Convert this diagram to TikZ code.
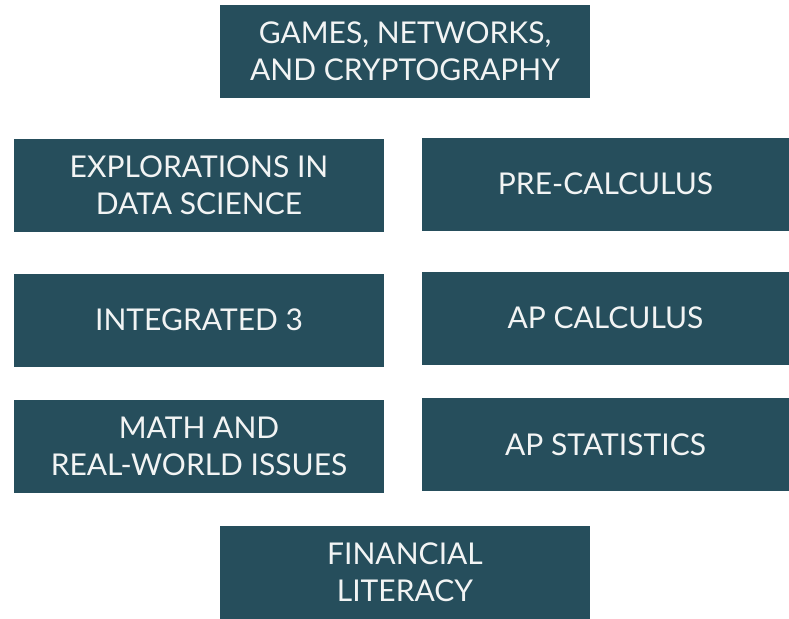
\documentclass[tikz,border=0pt]{standalone}
\usepackage{fontspec}
\setmainfont{Lato}
\definecolor{boxteal}{RGB}{38,78,92}
\definecolor{boxtext}{RGB}{242,244,244}
\begin{document}
\begin{tikzpicture}[x=1pt,y=-1pt,
  course/.style={fill=boxteal, draw=none, text=boxtext, inner sep=0pt,
    minimum width=370pt, minimum height=93pt, align=center,
    font=\fontsize{30}{37}\selectfont},
  rcourse/.style={course, minimum width=367pt}]
\useasboundingbox[fill=white] (0,0) rectangle (789,618);
\node[course] (games) at (405,51.5) {GAMES, NETWORKS,\\AND CRYPTOGRAPHY};
\node[course] (explore) at (199,185.5) {EXPLORATIONS IN\\DATA SCIENCE};
\node[rcourse] (precalc) at (605.5,184) {PRE-CALCULUS};
\node[course] (integ) at (199,320) {INTEGRATED 3};
\node[rcourse] (apcalc) at (605.5,318) {AP CALCULUS};
\node[course] (mathrw) at (199,446.5) {MATH AND\\REAL-WORLD ISSUES};
\node[rcourse] (apstat) at (605.5,444.5) {AP STATISTICS};
\node[course] (fin) at (405,572) {FINANCIAL\\LITERACY};
\end{tikzpicture}
\end{document}
